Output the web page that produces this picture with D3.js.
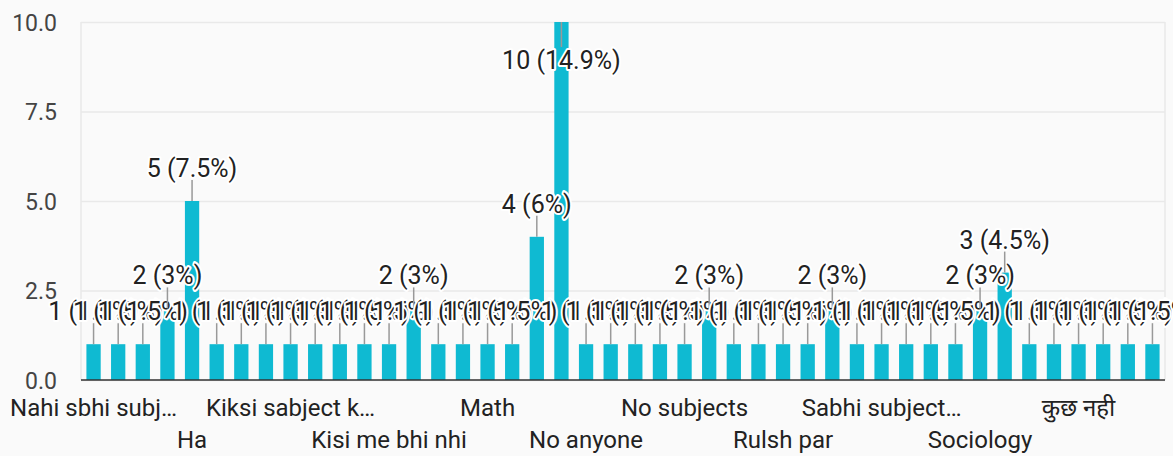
<!DOCTYPE html>
<html>
<head>
<meta charset="utf-8">
<script src="https://cdn.jsdelivr.net/npm/d3@7"></script>
<style>
  body { margin: 0; background: #fafafa; }
  svg { display: block; font-family: Roboto, "Noto Sans", sans-serif; }
</style>
</head>
<body>
<svg width="1173" height="456"></svg>
<script>
// answers (only every 4th one gets an axis label)
var categories = [
  "Nahi sbhi subj…", "Accountancy", "Biology", "English",
  "Ha", "Hindi", "History", "Kabhi nahi",
  "Kiksi sabject k…", "Kisi bhi nahi", "Kisi bhi subject me", "Kisi me bhi nahi",
  "Kisi me bhi nhi", "Koi nahi", "Kuch nahi", "Maine nahi",
  "Math", "Na", "Nahi", "No",
  "No anyone", "No one", "No subject", "No subject me",
  "No subjects", "None", "Physics", "Political science",
  "Rulsh par", "Sab me", "Sabhi", "Sabhi me",
  "Sabhi subject…", "Sabhi subjects", "Science", "Social science",
  "Sociology", "nahi", "nhi", "no",
  "कुछ नही", "कोई नहीं", "नहीं", "सभी विषय"
];
var counts = [
  1, 1, 1, 2,
  5, 1, 1, 1,
  1, 1, 1, 1,
  1, 2, 1, 1,
  1, 1, 4, 10,
  1, 1, 1, 1,
  1, 2, 1, 1,
  1, 1, 2, 1,
  1, 1, 1, 1,
  2, 3, 1, 1,
  1, 1, 1, 1
];
var yTicks = [0, 2.5, 5, 7.5, 10];

var total = d3.sum(counts);
var data = categories.map(function(c, i) { return {name: c, value: counts[i], i: i}; });

var svg = d3.select("svg"),
    margin = {top: 22, right: 8, bottom: 76, left: 81},
    width = +svg.attr("width") - margin.left - margin.right,
    height = +svg.attr("height") - margin.top - margin.bottom;

var g = svg.append("g").attr("transform", "translate(" + margin.left + "," + margin.top + ")");

var x = d3.scaleBand()
    .domain(d3.range(categories.length))
    .range([0, width])
    .paddingInner(0.42)
    .paddingOuter(0.22);

var y = d3.scaleLinear().domain([0, 10]).range([height, 0]);

// gridlines + tick labels
var yAxis = g.append("g")
    .call(d3.axisLeft(y).tickValues(yTicks).tickSize(-width).tickFormat(d3.format(".1f")));
yAxis.select(".domain").remove();
yAxis.selectAll(".tick line").attr("stroke", "#e9e9e9").attr("stroke-width", 1.5);
yAxis.selectAll(".tick text")
    .attr("x", -24)
    .attr("dy", "0.36em")
    .style("font-size", "23px")
    .attr("fill", "#444")
    .style("font-family", "Roboto, sans-serif");

// side borders of the plot box
g.append("line").attr("x1", 0).attr("x2", 0).attr("y1", 0).attr("y2", height)
    .attr("stroke", "#e9e9e9").attr("stroke-width", 1.5);
g.append("line").attr("x1", width).attr("x2", width).attr("y1", 0).attr("y2", height)
    .attr("stroke", "#e9e9e9").attr("stroke-width", 1.5);

// bars
g.selectAll("rect.bar")
  .data(data)
  .enter().append("rect")
    .attr("class", "bar")
    .attr("x", function(d) { return x(d.i); })
    .attr("y", function(d) { return y(d.value); })
    .attr("width", x.bandwidth())
    .attr("height", function(d) { return height - y(d.value); })
    .attr("fill", "#0fbad2");

// baseline
g.append("line").attr("x1", 0).attr("x2", width).attr("y1", height).attr("y2", height)
    .attr("stroke", "#333").attr("stroke-width", 1.5);

// annotations: stem + label, flipped inside the bar when there is no room above
function pct(v) {
  var p = Math.round(v / total * 1000) / 10;
  return v + " (" + p + "%)";
}
var ann = g.selectAll("g.ann")
  .data(data)
  .enter().append("g")
    .attr("class", "ann");

ann.append("line")
    .attr("x1", function(d) { return x(d.i) + x.bandwidth() / 2; })
    .attr("x2", function(d) { return x(d.i) + x.bandwidth() / 2; })
    .attr("y1", function(d) { return y(d.value); })
    .attr("y2", function(d) { return y(d.value) < 60 ? y(d.value) + 25 : y(d.value) - 21; })
    .attr("stroke", "#999")
    .attr("stroke-width", 1.5);

ann.append("text")
    .attr("x", function(d) { return x(d.i) + x.bandwidth() / 2; })
    .attr("y", function(d) { return y(d.value) < 60 ? y(d.value) + 47 : y(d.value) - 24; })
    .attr("text-anchor", "middle")
    .style("font-size", "25px")
    .attr("fill", "#222")
    .attr("stroke", "#fff")
    .attr("stroke-width", 4)
    .attr("stroke-linejoin", "round")
    .style("paint-order", "stroke")
    .text(function(d) { return pct(d.value); });

// category labels, every 4th, alternating two rows
g.selectAll("text.cat")
  .data(data.filter(function(d) { return d.i % 4 === 0; }))
  .enter().append("text")
    .attr("class", "cat")
    .attr("x", function(d) { return x(d.i) + x.bandwidth() / 2; })
    .attr("y", function(d) { return height + (d.i % 8 === 0 ? 36 : 68); })
    .attr("text-anchor", "middle")
    .style("font-size", "24px")
    .attr("fill", "#222")
    .text(function(d) { return d.name; });
</script>
</body>
</html>
